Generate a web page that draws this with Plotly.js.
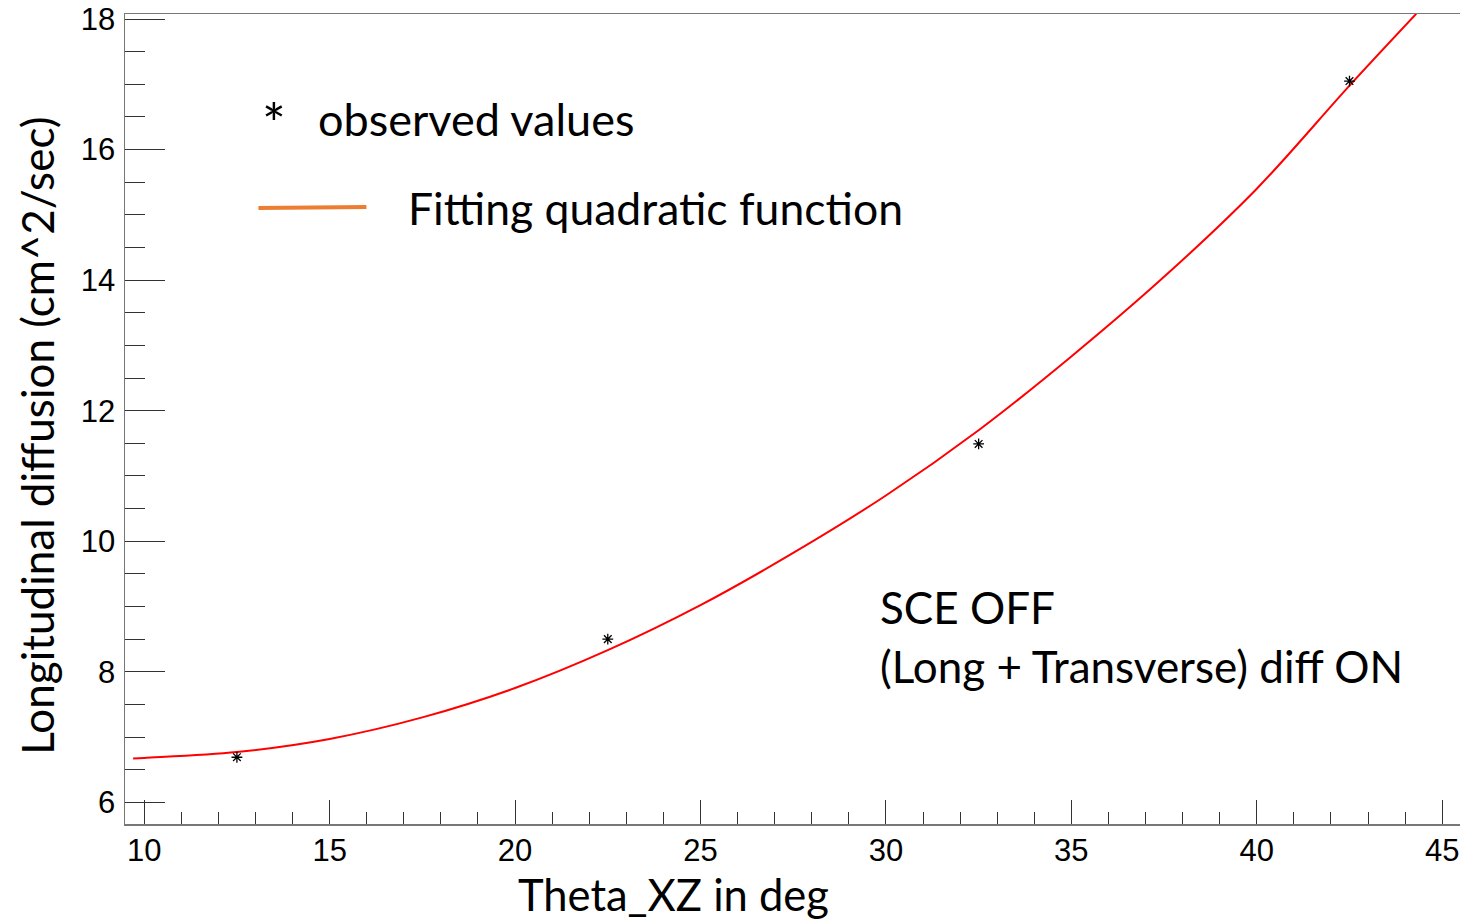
<!DOCTYPE html>
<html>
<head>
<meta charset="utf-8">
<script src="https://cdn.plot.ly/plotly-3.0.1.min.js"></script>
<style>html,body{margin:0;padding:0;background:#fff;}#chart{width:1460px;height:922px;}</style>
</head>
<body>
<div id="chart"></div>
<script>
const obsTheta = [12.5, 22.5, 32.5, 42.5];
const obsDiff  = [6.69, 8.50, 11.49, 17.05];

// Fitted quadratic curve
const fitTheta = [9.7, 10, 12.5, 15, 17.5, 20, 22.5, 25, 27.5, 30, 32.5, 35, 37.5, 40, 42.5, 44.3];
const fitDiff  = [6.67, 6.68, 6.77, 6.97, 7.30, 7.75, 8.33, 9.02, 9.82, 10.70, 11.70, 12.83, 14.05, 15.40, 16.98, 18.08];

const xTitle = "Theta_XZ in deg";
const yTitle = "Longitudinal diffusion (cm^2/sec)";
const legendObs = "observed values";
const legendFit = "Fitting quadratic function";
const note1 = "SCE OFF";
const note2 = "(Long + Transverse) diff ON";

const W = 1460, H = 922;
const L = 124.5, R = 0, T = 14, B = 98.3;
const pw = W - L - R, ph = H - T - B;
const px = x => (x - L) / pw;
const py = y => (H - B - y) / ph;

const txtFont = {family: "Lato, 'Open Sans', sans-serif", color: "#000"};
const tickFont = {family: "'Liberation Sans Narrow', 'Liberation Sans', Arial, sans-serif", size: 31, color: "#000"};

const traces = [
  {
    x: fitTheta, y: fitDiff, type: "scatter", mode: "lines",
    line: {color: "#ff0000", width: 2, shape: "spline"},
    hoverinfo: "skip", showlegend: false
  },
  {
    x: obsTheta, y: obsDiff, type: "scatter", mode: "markers",
    marker: {symbol: "asterisk-open", size: 9, color: "#000", line: {color: "#000", width: 1.3}},
    showlegend: false
  }
];

const layout = {
  width: W, height: H,
  margin: {l: L, r: R, t: T, b: B, pad: 0},
  paper_bgcolor: "#fff", plot_bgcolor: "#fff",
  showlegend: false,
  xaxis: {
    range: [9.482, 45.48], autorange: false,
    tickmode: "linear", tick0: 10, dtick: 5,
    ticks: "inside", ticklen: 24, tickwidth: 1, tickcolor: "#333",
    minor: {dtick: 1, tick0: 10, ticks: "inside", ticklen: 12, tickwidth: 1, tickcolor: "#333"},
    showgrid: false, zeroline: false,
    showline: true, mirror: true, linecolor: "#777", linewidth: 1.5,
    tickfont: tickFont, ticklabelstandoff: -2
  },
  yaxis: {
    range: [5.667, 18.077], autorange: false,
    tickmode: "linear", tick0: 6, dtick: 2,
    ticks: "inside", ticklen: 40, tickwidth: 1, tickcolor: "#333",
    minor: {dtick: 0.5, tick0: 6, ticks: "inside", ticklen: 20, tickwidth: 1, tickcolor: "#333"},
    showgrid: false, zeroline: false,
    showline: true, mirror: true, linecolor: "#777", linewidth: 1.5,
    tickfont: tickFont, ticklabelstandoff: 2
  },
  shapes: [
    {type: "line", xref: "paper", yref: "paper", x0: px(258), x1: px(366), y0: py(208), y1: py(207),
     line: {color: "#ED7D31", width: 4}}
  ],
  annotations: [
    {xref: "paper", yref: "paper", x: px(274), y: py(122), text: "*", showarrow: false,
     xanchor: "center", yanchor: "middle", font: Object.assign({size: 56}, txtFont)},
    {xref: "paper", yref: "paper", x: px(316), y: py(119), text: legendObs, showarrow: false,
     xanchor: "left", yanchor: "middle", font: Object.assign({size: 45}, txtFont)},
    {xref: "paper", yref: "paper", x: px(406), y: py(207), text: legendFit, showarrow: false,
     xanchor: "left", yanchor: "middle", font: Object.assign({size: 44.5}, txtFont)},
    {xref: "paper", yref: "paper", x: px(878), y: py(607), text: note1, showarrow: false,
     xanchor: "left", yanchor: "middle", font: Object.assign({size: 44}, txtFont)},
    {xref: "paper", yref: "paper", x: px(878), y: py(666), text: note2, showarrow: false,
     xanchor: "left", yanchor: "middle", font: Object.assign({size: 44}, txtFont)},
    {xref: "paper", yref: "paper", x: px(673), y: py(894), text: xTitle, showarrow: false,
     xanchor: "center", yanchor: "middle", font: Object.assign({size: 43.5}, txtFont)},
    {xref: "paper", yref: "paper", x: px(37), y: py(436), text: yTitle, showarrow: false,
     textangle: -90, xanchor: "center", yanchor: "middle", font: Object.assign({size: 44}, txtFont)}
  ]
};

Plotly.newPlot("chart", traces, layout, {displayModeBar: false, staticPlot: true});
</script>
</body>
</html>
